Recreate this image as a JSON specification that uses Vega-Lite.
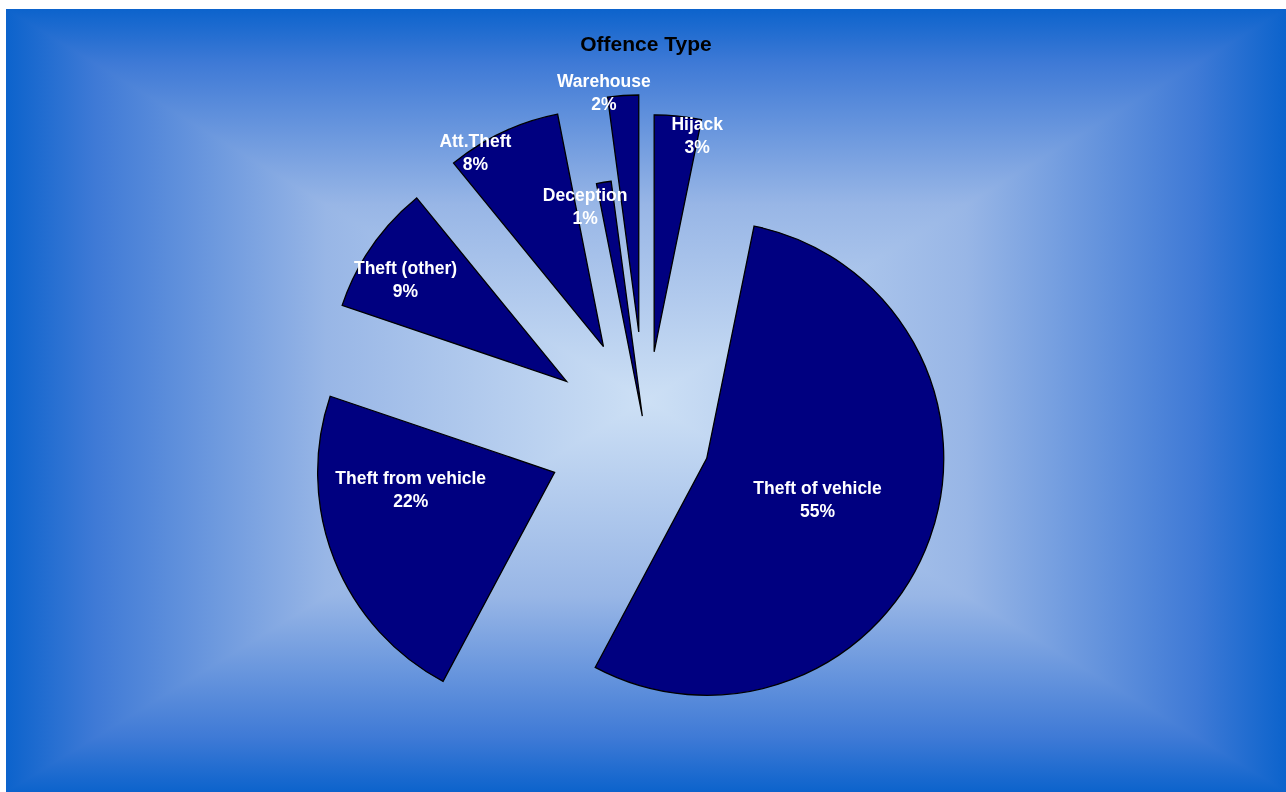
{
  "$schema": "https://vega.github.io/schema/vega-lite/v6.json",
  "width": 1280,
  "height": 783,
  "autosize": {"type": "none"},
  "padding": {"left": 6, "top": 9, "right": 0, "bottom": 0},
  "background": "#ffffff",
  "config": {"view": {"stroke": null}},
  "title": {
    "text": "Offence Type",
    "anchor": "middle",
    "offset": -63,
    "baseline": "alphabetic",
    "font": "Liberation Sans",
    "fontSize": 21,
    "fontWeight": "bold",
    "color": "#000000"
  },
  "layer": [
    {
      "data": {"values": [{}]},
      "mark": {
        "type": "rect",
        "fill": {
          "gradient": "linear", "x1": 0, "y1": 0, "x2": 1, "y2": 0,
          "stops": [
            {"offset": 0, "color": "#0c63cc"},
            {"offset": 0.07, "color": "#3f7ad6"},
            {"offset": 0.25, "color": "#98b6e6"},
            {"offset": 0.5, "color": "#cde0f5"},
            {"offset": 0.75, "color": "#98b6e6"},
            {"offset": 0.93, "color": "#3f7ad6"},
            {"offset": 1, "color": "#0c63cc"}
          ]
        }
      },
      "encoding": {
        "x": {"value": 0}, "x2": {"value": "width"},
        "y": {"value": 0}, "y2": {"value": "height"}
      }
    },
    {
      "data": {"values": [{}]},
      "mark": {
        "type": "rect",
        "blend": "darken",
        "fill": {
          "gradient": "linear", "x1": 0, "y1": 0, "x2": 0, "y2": 1,
          "stops": [
            {"offset": 0, "color": "#0c63cc"},
            {"offset": 0.07, "color": "#3f7ad6"},
            {"offset": 0.25, "color": "#98b6e6"},
            {"offset": 0.5, "color": "#cde0f5"},
            {"offset": 0.75, "color": "#98b6e6"},
            {"offset": 0.93, "color": "#3f7ad6"},
            {"offset": 1, "color": "#0c63cc"}
          ]
        }
      },
      "encoding": {
        "x": {"value": 0}, "x2": {"value": "width"},
        "y": {"value": 0}, "y2": {"value": "height"}
      }
    },
    {
      "data": {
        "values": [
          {"type": "Hijack", "share": 0.032},
          {"type": "Theft of vehicle", "share": 0.546},
          {"type": "Theft from vehicle", "share": 0.224},
          {"type": "Theft (other)", "share": 0.089},
          {"type": "Att.Theft", "share": 0.078},
          {"type": "Deception", "share": 0.010},
          {"type": "Warehouse", "share": 0.021}
        ]
      },
      "transform": [
        {"window": [{"op": "row_number", "as": "idx"}]},
        {"stack": "share", "groupby": [], "sort": [{"field": "idx", "order": "ascending"}], "as": ["s0", "s1"]},
        {"calculate": "(datum.s0 + datum.s1) / 2", "as": "mid"},
        {"calculate": "datum.type === 'Hijack' ? 0.358 : datum.type === 'Theft of vehicle' ? 0.274 : datum.type === 'Theft from vehicle' ? 0.413 : datum.type === 'Theft (other)' ? 0.406 : datum.type === 'Att.Theft' ? 0.418 : datum.type === 'Deception' ? 0.086 : 0.441", "as": "ex"},
        {"calculate": "datum.ex * sin(2 * PI * datum.mid)", "as": "cx"},
        {"calculate": "datum.ex * cos(2 * PI * datum.mid)", "as": "cy"},
        {"calculate": "datum.type === 'Hijack' ? 0.0314 : datum.type === 'Theft of vehicle' ? 0.3069 : datum.type === 'Theft from vehicle' ? 0.7303 : datum.type === 'Theft (other)' ? 0.8394 : datum.type === 'Att.Theft' ? 0.9069 : datum.type === 'Deception' ? 0.9575 : 0.9769", "as": "la"},
        {"calculate": "datum.type === 'Hijack' ? 0.927 : datum.type === 'Theft of vehicle' ? 0.499 : datum.type === 'Theft from vehicle' ? 0.612 : datum.type === 'Theft (other)' ? 0.803 : datum.type === 'Att.Theft' ? 0.979 : datum.type === 'Deception' ? 0.914 : 1.019", "as": "lr"},
        {"calculate": "datum.type + '\\n' + format(datum.share, '.0%')", "as": "label"}
      ],
      "layer": [
        {
          "mark": {"type": "arc", "outerRadius": 237, "fill": "#000080", "stroke": "#000000", "strokeWidth": 1.3},
          "encoding": {
            "x": {"field": "cx", "type": "quantitative", "scale": {"domain": [-2.699, 2.702], "nice": false, "zero": false}, "axis": null},
            "y": {"field": "cy", "type": "quantitative", "scale": {"domain": [-1.501, 1.803], "nice": false, "zero": false}, "axis": null},
            "theta": {"field": "s0", "type": "quantitative", "stack": null, "scale": {"domain": [0, 1], "range": [0, 6.283185307]}},
            "theta2": {"field": "s1"},
            "tooltip": [{"field": "type"}, {"field": "share", "format": ".0%"}]
          }
        },
        {
          "mark": {"type": "text", "color": "#ffffff", "font": "Liberation Sans", "fontSize": 17.5, "fontWeight": "bold", "align": "center", "baseline": "middle", "dy": -11, "lineBreak": "\n", "lineHeight": 23},
          "encoding": {
            "x": {"field": "cx", "type": "quantitative", "scale": {"domain": [-2.699, 2.702], "nice": false, "zero": false}, "axis": null},
            "y": {"field": "cy", "type": "quantitative", "scale": {"domain": [-1.501, 1.803], "nice": false, "zero": false}, "axis": null},
            "theta": {"field": "la", "type": "quantitative", "stack": null, "scale": {"domain": [0, 1], "range": [0, 6.283185307]}},
            "radius": {"field": "lr", "type": "quantitative", "scale": {"type": "linear", "domain": [0, 1], "range": [0, 237], "zero": true}},
            "text": {"field": "label"}
          }
        }
      ]
    }
  ]
}
